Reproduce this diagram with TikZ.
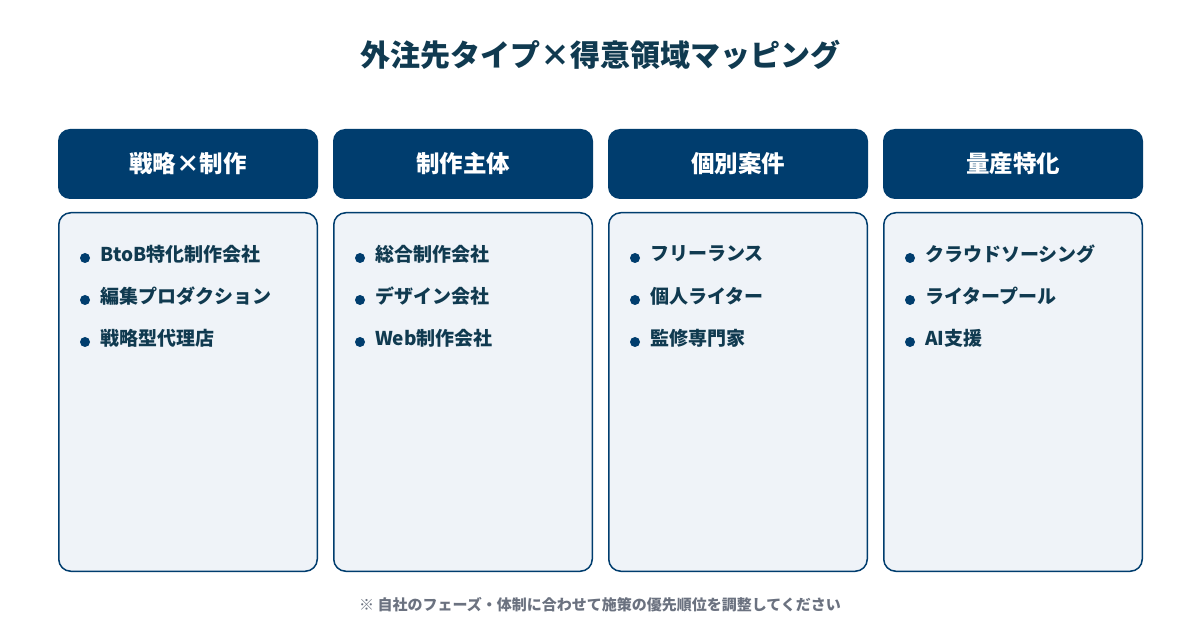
\documentclass[tikz,border=0pt]{standalone}
\usepackage{fontspec}
\setmainfont{Noto Sans CJK JP}[BoldFont={Noto Sans CJK JP Black}]
\definecolor{navy}{RGB}{0,61,110}
\definecolor{ink}{RGB}{16,58,80}
\definecolor{cardfill}{RGB}{239,243,248}
\definecolor{note}{RGB}{107,114,128}
\tikzset{
  hdr/.style={draw=none,fill=navy,rounded corners=12pt,minimum width=260pt,minimum height=70pt,inner sep=0pt,
    text=white,font=\bfseries\fontsize{23.5}{28}\selectfont},
  card/.style={draw=navy,line width=1.5pt,fill=cardfill,rounded corners=12pt,minimum width=258.5pt,minimum height=358.5pt,inner sep=0pt},
  item/.style={anchor=west,inner sep=0pt,text=ink,font=\bfseries\fontsize{19}{23}\selectfont},
  dot/.style={circle,fill=navy,minimum size=10pt,inner sep=0pt},
}
\begin{document}
\begin{tikzpicture}[x=1pt,y=-1pt]
\useasboundingbox (0,0) rectangle (1200,620);
\fill[white] (0,0) rectangle (1200,620);
\node[text=ink,font=\bfseries\fontsize{30}{35}\selectfont] (title) at (600,55) {外注先タイプ×得意領域マッピング};
\foreach \i/\x/\h in {1/188/戦略×制作,2/463/制作主体,3/738/個別案件,4/1013/量産特化}{
  \node[hdr] (h\i) at (\x,164) {\h};
  \node[card] (c\i) at (\x,392) {};
}
\foreach \i/\x/\a/\b/\c in {1/58/BtoB特化制作会社/編集プロダクション/戦略型代理店,
  2/333/総合制作会社/デザイン会社/Web制作会社,
  3/608/フリーランス/個人ライター/監修専門家,
  4/883/クラウドソーシング/ライタープール/AI支援}{
  \node[dot] (d\i a) at (\x+27,258) {};
  \node[item] (t\i a) at (\x+42,254) {\a};
  \node[dot] (d\i b) at (\x+27,300) {};
  \node[item] (t\i b) at (\x+42,296) {\b};
  \node[dot] (d\i c) at (\x+27,342) {};
  \node[item] (t\i c) at (\x+42,338) {\c};
}
\node[text=note,font=\bfseries\fontsize{15}{18}\selectfont] (foot) at (600,605) {※ 自社のフェーズ・体制に合わせて施策の優先順位を調整してください};
\end{tikzpicture}
\end{document}
